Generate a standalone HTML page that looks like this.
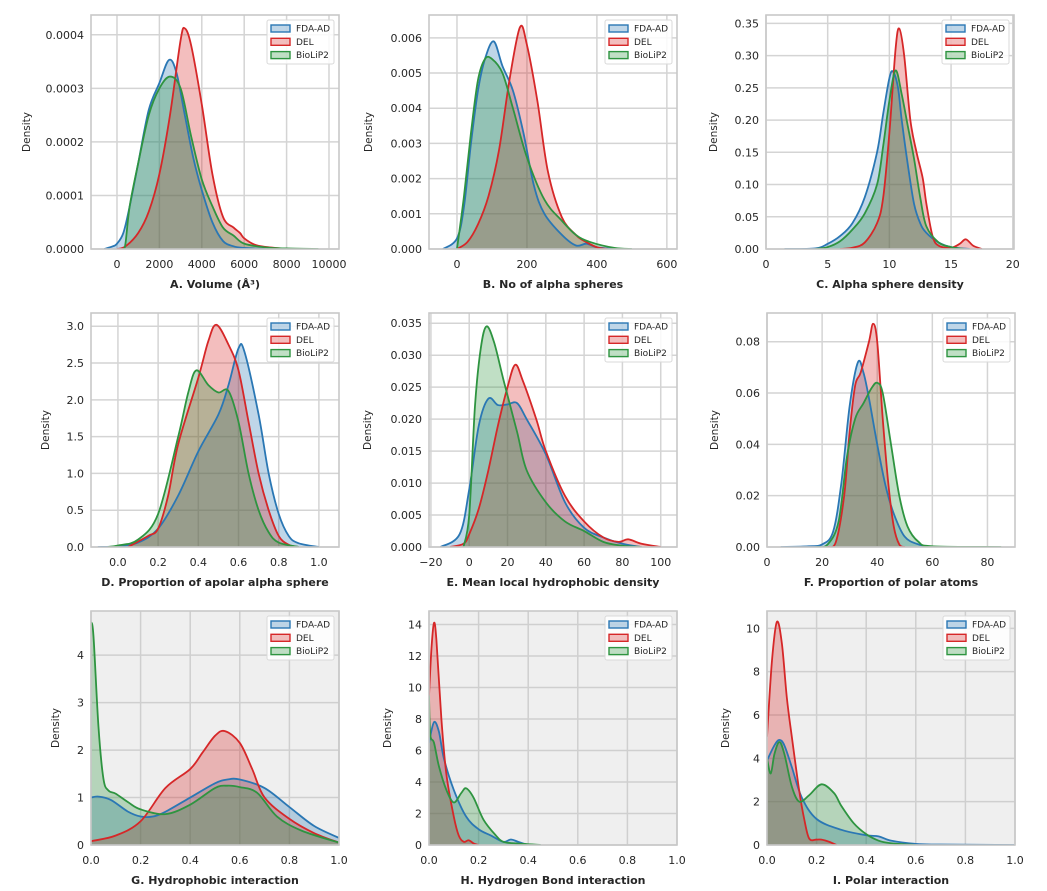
<!DOCTYPE html>
<html><head><meta charset="utf-8"><style>
html,body{margin:0;padding:0;background:#fff;}
svg{display:block;font-family:"DejaVu Sans","Liberation Sans",sans-serif;}
</style></head><body>
<svg id="fig" width="1047" height="891" viewBox="0 0 1047 891" xmlns="http://www.w3.org/2000/svg"></svg>
<script>
// ---- data (x,y pairs per series) ----
const seriesNames = ["FDA-AD","DEL","BioLiP2"];
const A_fda = [[-600,0],[-200,0.000005],[0,0.00001],[300,0.00003],[600,0.00008],[1000,0.00016],[1500,0.00026],[2000,0.00031],[2450,0.000353],[2800,0.00033],[3200,0.00025],[3600,0.00017],[4000,0.00011],[4500,0.00005],[5000,0.000015],[5500,0.000005],[6000,0.000002],[7000,0]];
const A_del = [[0,0],[400,0.000005],[1000,0.00003],[1500,0.00007],[2000,0.00014],[2500,0.00025],[3000,0.00039],[3200,0.000412],[3500,0.00038],[4000,0.00027],[4500,0.00014],[5000,0.00006],[5500,0.00004],[5800,0.00003],[6000,0.00002],[6500,0.000008],[7000,0.000004],[8000,0]];
const A_bio = [[300,0],[400,0.00001],[600,0.00008],[1000,0.00016],[1500,0.00025],[2000,0.0003],[2500,0.000322],[3000,0.0003],[3500,0.00021],[4000,0.00013],[4500,0.00008],[5000,0.00004],[5500,0.000025],[6000,0.00001],[7000,0.000003],[8000,0.000001],[9500,0]];
const B_fda = [[-40,0],[0,0.0003],[20,0.0012],[40,0.003],[60,0.0045],[80,0.0054],[105,0.0059],[130,0.0052],[160,0.0045],[190,0.0033],[220,0.0018],[250,0.001],[300,0.0004],[340,0.0001],[370,0.00015],[400,0.00005],[450,0]];
const B_del = [[0,0],[30,0.0002],[60,0.0007],[90,0.0015],[120,0.0028],[150,0.0048],[180,0.0063],[200,0.0058],[230,0.0042],[260,0.0022],[300,0.0009],[340,0.0004],[360,0.00025],[400,0.00005],[430,0]];
const B_bio = [[0,0],[20,0.0015],[40,0.0033],[60,0.0048],[80,0.0054],[100,0.0054],[130,0.005],[160,0.004],[200,0.0026],[250,0.0014],[300,0.0008],[340,0.0004],[380,0.0002],[450,0.00003],[500,0]];
const C_fda = [[1.5,0],[4,0.001],[5,0.008],[6,0.02],[7,0.04],[8,0.08],[9,0.15],[9.5,0.21],[10,0.265],[10.3,0.275],[10.7,0.25],[11,0.2],[11.5,0.13],[12,0.07],[12.5,0.04],[13,0.025],[14,0.01],[15,0.003],[16.5,0]];
const C_del = [[6,0],[7,0.002],[8,0.01],[9,0.04],[9.5,0.08],[10,0.18],[10.5,0.31],[10.8,0.342],[11.2,0.3],[11.7,0.2],[12.2,0.15],[12.7,0.11],[13,0.07],[13.5,0.02],[14,0.005],[15,0.002],[15.7,0.008],[16.2,0.015],[16.8,0.005],[17.5,0]];
const C_bio = [[4,0],[5,0.003],[6,0.012],[7,0.03],[8,0.055],[9,0.1],[9.5,0.16],[10,0.23],[10.5,0.277],[11,0.24],[11.5,0.19],[12,0.14],[12.5,0.08],[13,0.035],[14,0.01],[15,0.003],[16,0]];
const D_fda = [[-0.1,0],[0,0.01],[0.1,0.06],[0.2,0.25],[0.3,0.7],[0.4,1.3],[0.5,1.8],[0.55,2.2],[0.6,2.7],[0.63,2.65],[0.7,1.8],[0.75,1.0],[0.8,0.45],[0.85,0.15],[0.9,0.05],[1.0,0]];
const D_del = [[0.05,0],[0.15,0.15],[0.2,0.25],[0.25,0.7],[0.3,1.4],[0.4,2.3],[0.45,2.8],[0.49,3.02],[0.55,2.75],[0.6,2.4],[0.65,1.7],[0.7,1.0],[0.75,0.5],[0.8,0.15],[0.85,0.03],[0.9,0]];
const D_bio = [[-0.05,0],[0,0.02],[0.1,0.1],[0.2,0.45],[0.3,1.5],[0.35,2.1],[0.39,2.4],[0.45,2.2],[0.5,2.1],[0.55,2.12],[0.6,1.7],[0.65,1.0],[0.7,0.5],[0.75,0.2],[0.8,0.06],[0.9,0]];
const E_fda = [[-15,0],[-5,0.002],[0,0.009],[5,0.019],[10,0.0232],[15,0.0222],[20,0.0223],[25,0.0225],[30,0.02],[40,0.0145],[50,0.007],[60,0.003],[70,0.0015],[80,0.0005],[90,0]];
const E_del = [[-10,0],[-3,0.0005],[0,0.002],[5,0.006],[10,0.012],[15,0.019],[20,0.025],[24,0.0285],[28,0.026],[35,0.02],[40,0.015],[50,0.008],[60,0.004],[70,0.0015],[78,0.0008],[83,0.0012],[90,0.0005],[100,0]];
const E_bio = [[-3,0],[0,0.005],[3,0.022],[6,0.031],[9,0.0345],[13,0.032],[18,0.026],[25,0.018],[30,0.012],[40,0.007],[50,0.004],[60,0.0025],[70,0.0008],[80,0.0002],[90,0]];
const F_fda = [[5,0],[15,0.0003],[20,0.001],[24,0.006],[27,0.025],[30,0.055],[33,0.072],[35,0.068],[37,0.058],[40,0.04],[43,0.024],[46,0.013],[50,0.004],[55,0.001],[60,0]];
const F_del = [[22,0],[25,0.002],[28,0.02],[30,0.045],[32,0.063],[34,0.068],[37,0.08],[38.5,0.087],[40,0.08],[42,0.05],[44,0.025],[46,0.008],[48,0.001],[50,0]];
const F_bio = [[18,0],[22,0.001],[26,0.01],[29,0.035],[32,0.05],[35,0.056],[38,0.062],[40,0.064],[42,0.06],[45,0.04],[48,0.02],[51,0.008],[55,0.002],[60,0.0003],[85,0]];
const G_fda = [[0,1.0],[0.03,1.02],[0.08,0.95],[0.15,0.7],[0.2,0.6],[0.25,0.6],[0.3,0.7],[0.4,1.0],[0.5,1.3],[0.55,1.38],[0.6,1.38],[0.7,1.2],[0.8,0.8],[0.9,0.4],[1.0,0.15]];
const G_del = [[0,0.08],[0.1,0.2],[0.2,0.5],[0.3,1.2],[0.4,1.6],[0.45,1.95],[0.5,2.3],[0.54,2.4],[0.6,2.15],[0.65,1.6],[0.7,1.0],[0.8,0.55],[0.9,0.25],[1.0,0.05]];
const G_bio = [[0,4.7],[0.01,4.4],[0.03,2.5],[0.05,1.4],[0.07,1.15],[0.1,1.08],[0.15,0.9],[0.2,0.75],[0.3,0.65],[0.4,0.85],[0.5,1.2],[0.55,1.25],[0.6,1.22],[0.67,1.1],[0.75,0.6],[0.85,0.3],[1.0,0.05]];
const H_fda = [[0,6.5],[0.02,7.8],[0.04,7.2],[0.06,5.5],[0.1,3.5],[0.15,1.8],[0.2,1.0],[0.25,0.6],[0.3,0.2],[0.33,0.35],[0.36,0.2],[0.4,0.02],[0.45,0]];
const H_del = [[0,9.5],[0.01,12.5],[0.02,14.1],[0.03,13],[0.05,8],[0.07,4.5],[0.1,1.8],[0.12,0.6],[0.14,0.2],[0.16,0.3],[0.18,0.1],[0.2,0]];
const H_bio = [[0,9.5],[0.005,7],[0.02,6.5],[0.04,5],[0.07,3.5],[0.1,2.7],[0.13,3.3],[0.15,3.6],[0.18,3.0],[0.22,1.6],[0.27,0.6],[0.3,0.2],[0.35,0.1],[0.45,0]];
const I_fda = [[0,3.9],[0.03,4.6],[0.05,4.85],[0.07,4.6],[0.1,3.6],[0.14,2.2],[0.2,1.2],[0.3,0.7],[0.4,0.45],[0.45,0.4],[0.5,0.2],[0.6,0.05],[0.7,0.02],[1.0,0]];
const I_del = [[0,5],[0.02,8.5],[0.04,10.3],[0.06,9.3],[0.08,6.8],[0.1,5],[0.13,2.5],[0.15,1.2],[0.17,0.3],[0.2,0.25],[0.22,0.25],[0.25,0.15],[0.28,0]];
const I_bio = [[0,4],[0.015,3.3],[0.03,4.2],[0.05,4.75],[0.07,4.2],[0.1,2.7],[0.13,2.0],[0.17,2.3],[0.22,2.8],[0.27,2.4],[0.3,1.8],[0.35,1.0],[0.4,0.5],[0.45,0.2],[0.5,0.08],[0.6,0]];

const A_xticks=[0,2000,4000,6000,8000,10000], A_yticks=[0,0.0001,0.0002,0.0003,0.0004];
const B_xticks=[0,200,400,600], B_yticks=[0,0.001,0.002,0.003,0.004,0.005,0.006];
const C_xticks=[0,5,10,15,20], C_yticks=[0,0.05,0.1,0.15,0.2,0.25,0.3,0.35];
const D_xticks=[0,0.2,0.4,0.6,0.8,1.0], D_yticks=[0,0.5,1,1.5,2,2.5,3];
const E_xticks=[-20,0,20,40,60,80,100], E_yticks=[0,0.005,0.01,0.015,0.02,0.025,0.03,0.035];
const F_xticks=[0,20,40,60,80], F_yticks=[0,0.02,0.04,0.06,0.08];
const G_xticks=[0,0.2,0.4,0.6,0.8,1.0], G_yticks=[0,1,2,3,4];
const H_xticks=[0,0.2,0.4,0.6,0.8,1.0], H_yticks=[0,2,4,6,8,10,12,14];
const I_xticks=[0,0.2,0.4,0.6,0.8,1.0], I_yticks=[0,2,4,6,8,10];

const panels = [
 {id:"a",L:91,T:15,xd:[-1226,10472],yd:[0,0.000437],xt:A_xticks,yt:A_yticks,xf:0,yf:4,title:"A. Volume (Å³)",s:[A_fda,A_del,A_bio],dx:30,bg:"#fff"},
 {id:"b",L:429,T:15,xd:[-80,629],yd:[0,0.00665],xt:B_xticks,yt:B_yticks,xf:0,yf:3,title:"B. No of alpha spheres",s:[B_fda,B_del,B_bio],dx:372,bg:"#fff"},
 {id:"c",L:766,T:15,xd:[0,20.1],yd:[0,0.363],xt:C_xticks,yt:C_yticks,xf:0,yf:2,title:"C. Alpha sphere density",s:[C_fda,C_del,C_bio],dx:717,bg:"#fff"},
 {id:"d",L:91,T:313,xd:[-0.134,1.10],yd:[0,3.18],xt:D_xticks,yt:D_yticks,xf:1,yf:1,title:"D. Proportion of apolar alpha sphere",s:[D_fda,D_del,D_bio],dx:49,bg:"#fff"},
 {id:"e",L:429,T:313,xd:[-21,108.5],yd:[0,0.0366],xt:E_xticks,yt:E_yticks,xf:0,yf:3,title:"E. Mean local hydrophobic density",s:[E_fda,E_del,E_bio],dx:371,bg:"#fff"},
 {id:"f",L:767,T:313,xd:[0,90],yd:[0,0.0912],xt:F_xticks,yt:F_yticks,xf:0,yf:2,title:"F. Proportion of polar atoms",s:[F_fda,F_del,F_bio],dx:718,bg:"#fff"},
 {id:"g",L:91,T:611,xd:[0,1],yd:[0,4.93],xt:G_xticks,yt:G_yticks,xf:1,yf:0,title:"G. Hydrophobic interaction",s:[G_fda,G_del,G_bio],dx:59,bg:"#efefef"},
 {id:"h",L:429,T:611,xd:[0,1],yd:[0,14.86],xt:H_xticks,yt:H_yticks,xf:1,yf:0,title:"H. Hydrogen Bond interaction",s:[H_fda,H_del,H_bio],dx:391,bg:"#efefef"},
 {id:"i",L:767,T:611,xd:[0,1],yd:[0,10.8],xt:I_xticks,yt:I_yticks,xf:1,yf:0,title:"I. Polar interaction",s:[I_fda,I_del,I_bio],dx:729,bg:"#efefef"}
];
const colors=["#2a77b4","#d62728","#2e9440"];
const W=248,H=234;
const NS="http://www.w3.org/2000/svg";
const fig=document.getElementById("fig");
function mk(tag,attrs,parent){const e=document.createElementNS(NS,tag);for(const k in attrs)e.setAttribute(k,attrs[k]);(parent||fig).appendChild(e);return e;}
function fmt(v,d){let s=v.toFixed(d);if(v<0)s="\u2212"+s.slice(1);return s;}
function smoothPath(pts){
  let d="M"+pts[0][0].toFixed(2)+","+pts[0][1].toFixed(2);
  for(let i=0;i<pts.length-1;i++){
    const p0=pts[Math.max(0,i-1)],p1=pts[i],p2=pts[i+1],p3=pts[Math.min(pts.length-1,i+2)];
    const t=1/6;
    let c1=[p1[0]+(p2[0]-p0[0])*t,p1[1]+(p2[1]-p0[1])*t];
    let c2=[p2[0]-(p3[0]-p1[0])*t,p2[1]-(p3[1]-p1[1])*t];
    d+=" C"+c1[0].toFixed(2)+","+c1[1].toFixed(2)+" "+c2[0].toFixed(2)+","+c2[1].toFixed(2)+" "+p2[0].toFixed(2)+","+p2[1].toFixed(2);
  }
  return d;
}
panels.forEach(p=>{
  const sx=v=>p.L+(v-p.xd[0])/(p.xd[1]-p.xd[0])*W;
  const sy=v=>p.T+H-(v-p.yd[0])/(p.yd[1]-p.yd[0])*H;
  const g=mk("g",{});
  
  
  const clipId="clip-"+p.id;
  const cp=mk("clipPath",{id:clipId},g);mk("rect",{x:p.L,y:p.T,width:W,height:H},cp);
  const bg=mk("rect",{x:p.L,y:p.T,width:W,height:H,fill:p.bg},g);
  
  
  const gc=p.bg==="#fff"?"#d4d4d4":"#cfcfcf";
  p.xt.forEach(v=>{const x=sx(v);
    const l=mk("line",{x1:x,x2:x,y1:p.T,y2:p.T+H,stroke:gc,"stroke-width":1.5},g);
    
    
    const t=mk("text",{x:x,y:p.T+H+19,"text-anchor":"middle","font-size":11,fill:"#262626"},g);t.textContent=fmt(v,p.xf);
    
    
  });
  p.yt.forEach(v=>{const y=sy(v);
    const l=mk("line",{x1:p.L,x2:p.L+W,y1:y,y2:y,stroke:gc,"stroke-width":1.5},g);
    
    
    const t=mk("text",{x:p.L-7,y:y+4,"text-anchor":"end","font-size":11,fill:"#262626"},g);t.textContent=fmt(v,p.yf);
    
    
  });
  const cg=mk("g",{"clip-path":"url(#"+clipId+")"},g);
  p.s.forEach((ser,i)=>{
    const pts=ser.map(d=>[sx(d[0]),sy(Math.max(0,d[1]))]);
    const line=smoothPath(pts);
    const base=sy(0);
    const area=line+" L"+pts[pts.length-1][0].toFixed(2)+","+base+" L"+pts[0][0].toFixed(2)+","+base+" Z";
    const a=mk("path",{d:area,fill:colors[i],"fill-opacity":0.3,stroke:"none"},cg);
    
    
  });
  p.s.forEach((ser,i)=>{
    const pts=ser.map(d=>[sx(d[0]),sy(Math.max(0,d[1]))]);
    const ln=mk("path",{d:smoothPath(pts),fill:"none",stroke:colors[i],"stroke-width":1.8},cg);
    
    
  });
  const fr=mk("rect",{x:p.L,y:p.T,width:W,height:H,fill:"none",stroke:"#c8c8c8","stroke-width":1.6},g);
  
  
  const xt=mk("text",{x:p.L+W/2,y:p.T+H+39,"text-anchor":"middle","font-size":11,"font-weight":"bold",fill:"#262626"},g);
  xt.textContent=p.title;
  
  
  const yt=mk("text",{x:p.dx,y:p.T+H/2,"text-anchor":"middle","font-size":10.5,fill:"#262626",transform:"rotate(-90 "+p.dx+" "+(p.T+H/2)+")"},g);
  yt.textContent="Density";
  
  
  // legend
  const lx=p.L+W-72,ly=p.T+5;
  const lg=mk("g",{},g);
  
  
  mk("rect",{x:lx,y:ly,width:67,height:44,rx:2,fill:"#fff","fill-opacity":0.85,stroke:"#d9d9d9","stroke-width":1},lg);
  seriesNames.forEach((n,i)=>{
    const e=mk("g",{},lg);
    
    
    const cy=ly+8+i*13.3;
    mk("rect",{x:lx+4,y:cy-3,width:19,height:7,fill:colors[i],"fill-opacity":0.3,stroke:colors[i],"stroke-width":1.4},e);
    const t=mk("text",{x:lx+29,y:cy+3.5,"font-size":9,fill:"#262626"},e);t.textContent=n;
  });
});
</script>
</body></html>
